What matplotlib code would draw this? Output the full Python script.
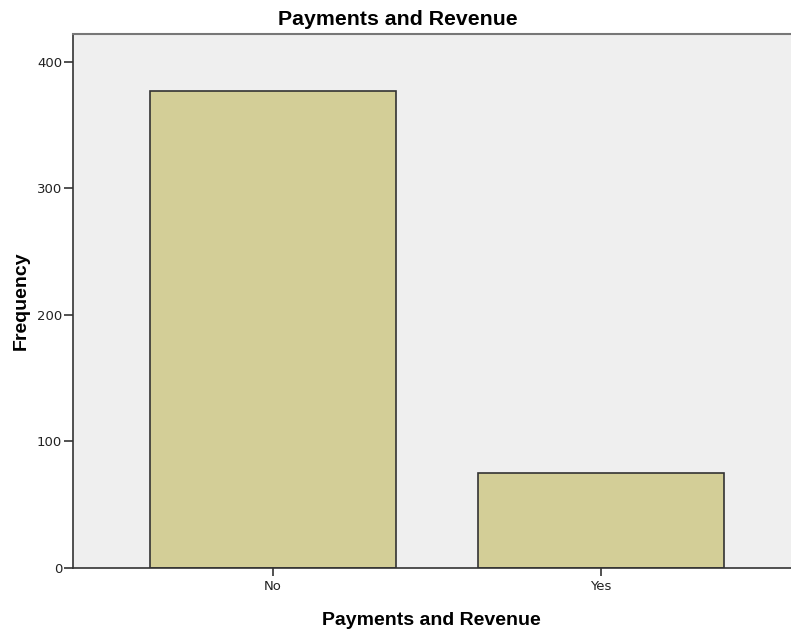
import matplotlib
matplotlib.use("Agg")
import matplotlib.pyplot as plt

categories = ["No", "Yes"]
frequency = [377, 75]
yticks = [0, 100, 200, 300, 400]

plt.rcParams["font.family"] = ["Liberation Sans", "DejaVu Sans"]

fig = plt.figure(figsize=(7.91, 6.32), dpi=100)
ax = fig.add_axes([72.5 / 791, 64 / 632, 1 - 72.5 / 791, 534 / 632])
ax.set_facecolor("#efefef")

x = list(range(len(categories)))
ax.bar(x, frequency, width=0.75, color="#d3ce97", edgecolor="#333333", linewidth=1.2, zorder=2)

ax.set_xlim(-0.611, 1.579)
ax.set_ylim(0, 422)
ax.set_yticks(yticks)
ax.set_xticks(x)
ax.set_xticklabels(categories)
ax.tick_params(axis="both", direction="out", length=6.5, width=1.2, color="#333333",
               labelsize=9.5, labelcolor="#222222")
ax.tick_params(axis="y", pad=1)
ax.tick_params(axis="x", length=6, pad=2.5)
for lab in ax.get_xticklabels() + ax.get_yticklabels():
    lab.set_family(["DejaVu Sans"])

for side in ["left", "bottom"]:
    ax.spines[side].set_color("#333333")
    ax.spines[side].set_linewidth(1.2)
ax.spines["top"].set_color("#777777")
ax.spines["top"].set_linewidth(1.5)
ax.spines["right"].set_visible(False)

fig.suptitle("Payments and Revenue", x=0.5 + 2 / 791, y=1 - 25 / 632, va="baseline",
             fontsize=15.3, fontweight="bold")
ax.set_xlabel("Payments and Revenue", fontsize=14, fontweight="bold", labelpad=13.5)
ax.set_ylabel("Frequency", fontsize=14, fontweight="bold", labelpad=5)

fig.savefig("out.png", dpi=100)
